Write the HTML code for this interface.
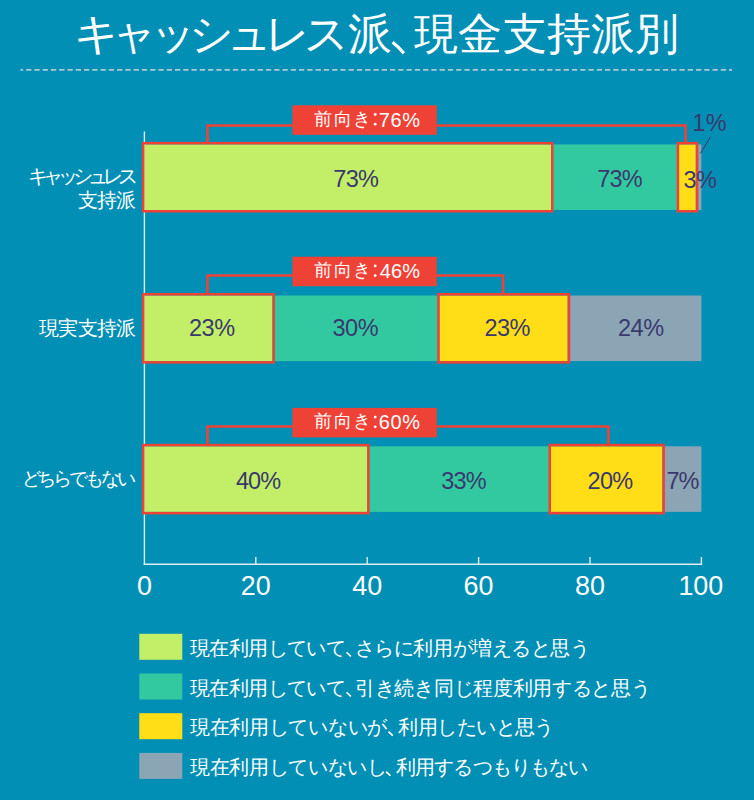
<!DOCTYPE html>
<html><head><meta charset="utf-8"><style>
html,body{margin:0;padding:0;}
body{width:754px;height:800px;background:#028fb5;position:relative;overflow:hidden;font-family:"Liberation Sans",sans-serif;}
svg{position:absolute;left:0;top:0;}
.t{position:absolute;white-space:nowrap;line-height:1;}
</style></head><body>
<svg width="754" height="800" viewBox="0 0 754 800">
<line x1="144.4" y1="131.6" x2="144.4" y2="564.9" stroke="#dcedf3" stroke-width="1.4"/>
<line x1="143.70000000000002" y1="564.2" x2="702.10" y2="564.2" stroke="#dcedf3" stroke-width="1.4"/>
<line x1="255.80" y1="557" x2="255.80" y2="564.2" stroke="#dcedf3" stroke-width="1.4"/>
<line x1="367.20" y1="557" x2="367.20" y2="564.2" stroke="#dcedf3" stroke-width="1.4"/>
<line x1="478.60" y1="557" x2="478.60" y2="564.2" stroke="#dcedf3" stroke-width="1.4"/>
<line x1="590.00" y1="557" x2="590.00" y2="564.2" stroke="#dcedf3" stroke-width="1.4"/>
<line x1="701.40" y1="557" x2="701.40" y2="564.2" stroke="#dcedf3" stroke-width="1.4"/>
<rect x="144.40" y="144.40" width="406.61" height="65.6" fill="#c3ef68"/>
<rect x="551.01" y="144.40" width="128.11" height="65.6" fill="#33c9a0"/>
<rect x="679.12" y="144.40" width="16.71" height="65.6" fill="#ffde17"/>
<rect x="695.83" y="144.40" width="5.57" height="65.6" fill="#8ba5b5"/>
<rect x="144.40" y="295.50" width="128.11" height="65.6" fill="#c3ef68"/>
<rect x="272.51" y="295.50" width="167.10" height="65.6" fill="#33c9a0"/>
<rect x="439.61" y="295.50" width="128.11" height="65.6" fill="#ffde17"/>
<rect x="567.72" y="295.50" width="133.68" height="65.6" fill="#8ba5b5"/>
<rect x="144.40" y="446.30" width="222.80" height="65.6" fill="#c3ef68"/>
<rect x="367.20" y="446.30" width="183.81" height="65.6" fill="#33c9a0"/>
<rect x="551.01" y="446.30" width="111.40" height="65.6" fill="#ffde17"/>
<rect x="662.41" y="446.30" width="38.99" height="65.6" fill="#8ba5b5"/>
<rect x="143.15" y="143.15" width="409.11" height="68.10" fill="none" stroke="#ee4236" stroke-width="2.5"/>
<rect x="677.87" y="143.15" width="19.21" height="68.10" fill="none" stroke="#ee4236" stroke-width="2.5"/>
<polyline points="207.5,143.15 207.5,125.50 685.60,125.50 685.60,143.15" fill="none" stroke="#ee4236" stroke-width="2.6"/>
<rect x="292.4" y="105.30" width="144.4" height="29.5" fill="#ee4236"/>
<rect x="143.15" y="294.25" width="130.61" height="68.10" fill="none" stroke="#ee4236" stroke-width="2.5"/>
<rect x="438.36" y="294.25" width="130.61" height="68.10" fill="none" stroke="#ee4236" stroke-width="2.5"/>
<polyline points="207.5,294.25 207.5,275.50 503.00,275.50 503.00,294.25" fill="none" stroke="#ee4236" stroke-width="2.6"/>
<rect x="292.4" y="256.70" width="144.4" height="29.5" fill="#ee4236"/>
<rect x="143.15" y="445.05" width="225.30" height="68.10" fill="none" stroke="#ee4236" stroke-width="2.5"/>
<rect x="549.76" y="445.05" width="113.90" height="68.10" fill="none" stroke="#ee4236" stroke-width="2.5"/>
<polyline points="207.5,445.05 207.5,426.45 608.50,426.45 608.50,445.05" fill="none" stroke="#ee4236" stroke-width="2.6"/>
<rect x="292.4" y="407.90" width="144.4" height="29.5" fill="#ee4236"/>
<path d="M392.6,42.3 Q398.6,46.9 403.9,53.3" fill="none" stroke="#fff" stroke-width="3.1"/>
<path d="M346.50,652.40 Q348.70,654.00 350.80,656.50" fill="none" stroke="#fff" stroke-width="1.7"/>
<path d="M346.50,692.40 Q348.70,694.00 350.80,696.50" fill="none" stroke="#fff" stroke-width="1.7"/>
<path d="M388.50,731.70 Q390.70,733.30 392.80,735.80" fill="none" stroke="#fff" stroke-width="1.7"/>
<path d="M386.10,771.70 Q388.30,773.30 390.40,775.80" fill="none" stroke="#fff" stroke-width="1.7"/>
<circle cx="375.2" cy="114.50" r="1.4" fill="#fff"/><circle cx="375.2" cy="124.20" r="1.4" fill="#fff"/>
<circle cx="375.2" cy="265.90" r="1.4" fill="#fff"/><circle cx="375.2" cy="275.60" r="1.4" fill="#fff"/>
<circle cx="375.2" cy="417.10" r="1.4" fill="#fff"/><circle cx="375.2" cy="426.80" r="1.4" fill="#fff"/>
<line x1="710.6" y1="136.8" x2="700.3" y2="153.5" stroke="#3a396d" stroke-width="1"/>
<line x1="20.5" y1="69.9" x2="732" y2="69.9" stroke="#adcad4" stroke-width="1.8" stroke-dasharray="5.25 3.02" stroke-dashoffset="2.65"/>
<rect x="139.3" y="633.80" width="43" height="26" fill="#c3ef68"/>
<rect x="139.3" y="673.50" width="43" height="26" fill="#33c9a0"/>
<rect x="139.3" y="713.20" width="43" height="26" fill="#ffde17"/>
<rect x="139.3" y="752.90" width="43" height="26" fill="#8ba5b5"/>
</svg>
<div class="t" style="left:74.00px;top:13.46px;font-size:43.5px;letter-spacing:-6.733px;color:#fff">キャッシュレス</div>
<div class="t" style="left:347.60px;top:13.46px;font-size:43.5px;letter-spacing:0.000px;color:#fff">派</div>
<div class="t" style="left:414.20px;top:13.46px;font-size:43.5px;letter-spacing:0.160px;color:#fff">現金支持派別</div>
<div class="t" style="left:28.00px;top:166.88px;font-size:19.5px;letter-spacing:-4.967px;color:#fff">キャッシュレス</div>
<div class="t" style="left:77.60px;top:190.91px;font-size:19.5px;letter-spacing:-0.700px;color:#fff">支持派</div>
<div class="t" style="left:39.00px;top:318.75px;font-size:19.5px;letter-spacing:-0.700px;color:#fff">現実支持派</div>
<div class="t" style="left:21.50px;top:470.39px;font-size:18.6px;letter-spacing:-3.033px;color:#fff">どちらでもない</div>
<div class="t" style="left:314.30px;top:109.88px;font-size:18px;letter-spacing:1.400px;color:#fff">前向き</div>
<div class="t" style="left:378.80px;top:109.50px;font-size:20px;letter-spacing:0.550px;color:#fff">76%</div>
<div class="t" style="left:314.30px;top:261.28px;font-size:18px;letter-spacing:1.400px;color:#fff">前向き</div>
<div class="t" style="left:379.80px;top:260.90px;font-size:20px;letter-spacing:0.050px;color:#fff">46%</div>
<div class="t" style="left:314.30px;top:412.48px;font-size:18px;letter-spacing:1.400px;color:#fff">前向き</div>
<div class="t" style="left:378.80px;top:412.10px;font-size:20px;letter-spacing:0.550px;color:#fff">60%</div>
<div class="t" style="left:333.30px;top:167.78px;font-size:23.5px;letter-spacing:-0.700px;color:#3a396d">73%</div>
<div class="t" style="left:597.20px;top:167.78px;font-size:23.5px;letter-spacing:-0.800px;color:#3a396d">73%</div>
<div class="t" style="left:683.50px;top:168.97px;font-size:23.5px;letter-spacing:-0.500px;color:#3a396d">3%</div>
<div class="t" style="left:692.30px;top:112.47px;font-size:23.5px;letter-spacing:0.400px;color:#3a396d">1%</div>
<div class="t" style="left:188.90px;top:316.58px;font-size:23.5px;letter-spacing:-0.450px;color:#3a396d">23%</div>
<div class="t" style="left:332.40px;top:316.58px;font-size:23.5px;letter-spacing:-0.450px;color:#3a396d">30%</div>
<div class="t" style="left:484.60px;top:316.58px;font-size:23.5px;letter-spacing:-0.650px;color:#3a396d">23%</div>
<div class="t" style="left:617.90px;top:316.58px;font-size:23.5px;letter-spacing:-0.450px;color:#3a396d">24%</div>
<div class="t" style="left:235.90px;top:469.68px;font-size:23.5px;letter-spacing:-0.950px;color:#3a396d">40%</div>
<div class="t" style="left:441.20px;top:469.68px;font-size:23.5px;letter-spacing:-0.750px;color:#3a396d">33%</div>
<div class="t" style="left:587.60px;top:469.68px;font-size:23.5px;letter-spacing:-0.750px;color:#3a396d">20%</div>
<div class="t" style="left:666.50px;top:469.68px;font-size:23.5px;letter-spacing:-1.000px;color:#3a396d">7%</div>
<div class="t" style="left:136.90px;top:572.97px;font-size:26.9px;letter-spacing:0.000px;color:#fff">0</div>
<div class="t" style="left:240.80px;top:572.97px;font-size:26.9px;letter-spacing:0.000px;color:#fff">20</div>
<div class="t" style="left:352.20px;top:572.97px;font-size:26.9px;letter-spacing:0.000px;color:#fff">40</div>
<div class="t" style="left:463.60px;top:572.97px;font-size:26.9px;letter-spacing:0.000px;color:#fff">60</div>
<div class="t" style="left:575.00px;top:572.97px;font-size:26.9px;letter-spacing:0.000px;color:#fff">80</div>
<div class="t" style="left:678.40px;top:572.97px;font-size:26.9px;letter-spacing:0.000px;color:#fff">100</div>
<div class="t" style="left:190.00px;top:638.00px;font-size:20px;letter-spacing:-0.586px;color:#fff">現在利用していて</div>
<div class="t" style="left:354.80px;top:638.00px;font-size:20px;letter-spacing:-0.455px;color:#fff">さらに利用が増えると思う</div>
<div class="t" style="left:190.00px;top:677.70px;font-size:20px;letter-spacing:-0.586px;color:#fff">現在利用していて</div>
<div class="t" style="left:355.10px;top:677.70px;font-size:20px;letter-spacing:-0.307px;color:#fff">引き続き同じ程度利用すると思う</div>
<div class="t" style="left:190.00px;top:717.40px;font-size:20px;letter-spacing:-0.311px;color:#fff">現在利用していないが</div>
<div class="t" style="left:398.10px;top:717.40px;font-size:20px;letter-spacing:-0.514px;color:#fff">利用したいと思う</div>
<div class="t" style="left:190.00px;top:757.10px;font-size:20px;letter-spacing:-0.344px;color:#fff">現在利用していないし</div>
<div class="t" style="left:396.10px;top:757.10px;font-size:20px;letter-spacing:-0.889px;color:#fff">利用するつもりもない</div>
</body></html>
